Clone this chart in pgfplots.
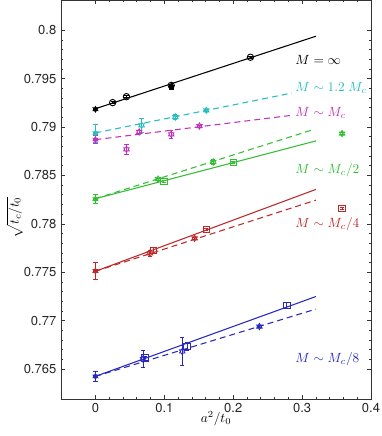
\documentclass[border=0pt]{standalone}
\usepackage{fontspec}
\setmainfont{TeX Gyre Heros}
\usepackage{pgfplots}
\pgfplotsset{compat=1.18}

\definecolor{cK}{RGB}{0,0,0}
\definecolor{cC}{RGB}{38,190,190}
\definecolor{cM}{RGB}{190,50,190}
\definecolor{cG}{RGB}{50,190,50}
\definecolor{cR}{RGB}{190,40,40}
\definecolor{cB}{RGB}{40,40,190}

% six-pointed star outline
\pgfdeclareplotmark{hexa}{%
  \pgfpathmoveto{\pgfpointpolar{90}{\pgfplotmarksize}}%
  \pgfpathlineto{\pgfpointpolar{120}{0.577\pgfplotmarksize}}%
  \pgfpathlineto{\pgfpointpolar{150}{\pgfplotmarksize}}%
  \pgfpathlineto{\pgfpointpolar{180}{0.577\pgfplotmarksize}}%
  \pgfpathlineto{\pgfpointpolar{210}{\pgfplotmarksize}}%
  \pgfpathlineto{\pgfpointpolar{240}{0.577\pgfplotmarksize}}%
  \pgfpathlineto{\pgfpointpolar{270}{\pgfplotmarksize}}%
  \pgfpathlineto{\pgfpointpolar{300}{0.577\pgfplotmarksize}}%
  \pgfpathlineto{\pgfpointpolar{330}{\pgfplotmarksize}}%
  \pgfpathlineto{\pgfpointpolar{0}{0.577\pgfplotmarksize}}%
  \pgfpathlineto{\pgfpointpolar{30}{\pgfplotmarksize}}%
  \pgfpathlineto{\pgfpointpolar{60}{0.577\pgfplotmarksize}}%
  \pgfpathclose
  \pgfusepathqstroke}
\pgfdeclareplotmark{hexa*}{%
  \pgfpathmoveto{\pgfpointpolar{90}{\pgfplotmarksize}}%
  \pgfpathlineto{\pgfpointpolar{120}{0.577\pgfplotmarksize}}%
  \pgfpathlineto{\pgfpointpolar{150}{\pgfplotmarksize}}%
  \pgfpathlineto{\pgfpointpolar{180}{0.577\pgfplotmarksize}}%
  \pgfpathlineto{\pgfpointpolar{210}{\pgfplotmarksize}}%
  \pgfpathlineto{\pgfpointpolar{240}{0.577\pgfplotmarksize}}%
  \pgfpathlineto{\pgfpointpolar{270}{\pgfplotmarksize}}%
  \pgfpathlineto{\pgfpointpolar{300}{0.577\pgfplotmarksize}}%
  \pgfpathlineto{\pgfpointpolar{330}{\pgfplotmarksize}}%
  \pgfpathlineto{\pgfpointpolar{0}{0.577\pgfplotmarksize}}%
  \pgfpathlineto{\pgfpointpolar{30}{\pgfplotmarksize}}%
  \pgfpathlineto{\pgfpointpolar{60}{0.577\pgfplotmarksize}}%
  \pgfpathclose
  \pgfusepathqfillstroke}

\pgfplotsset{
  fit/.style={line width=0.8pt, mark=none},
  dfit/.style={line width=0.8pt, mark=none, dash pattern=on 4.5pt off 3pt},
  pts/.style={only marks, line width=0.7pt,
    error bars/y dir=both, error bars/y explicit,
    error bars/error mark options={rotate=90, mark size=1.6pt, line width=0.7pt},
    error bars/error bar style={line width=0.7pt}},
  st/.style={mark=hexa, mark size=2.3pt},
  sq/.style={mark=square, mark size=2.4pt, mark options={fill=white}},
  zero/.style={mark=hexa*, mark size=2pt},
}

\begin{document}
\begin{tikzpicture}
\begin{axis}[
  width=232.5pt, height=299pt, scale only axis,
  xmin=-0.05, xmax=0.4,
  ymin=0.7619, ymax=0.8031,
  xtick={0,0.1,0.2,0.3,0.4},
  ytick={0.765,0.77,0.775,0.78,0.785,0.79,0.795,0.8},
  minor x tick num=4, minor y tick num=4,
  tick align=inside,
  major tick length=3pt, minor tick length=1.6pt,
  axis line style={black!80, line width=0.6pt},
  tick style={black!80, line width=0.5pt},
  /pgf/number format/assume math mode=true,
  yticklabel style={/pgf/number format/.cd, fixed, precision=3},
  xticklabel style={/pgf/number format/.cd, fixed, precision=2},
  tick label style={font=\fontsize{9.75}{11}\selectfont, text=black!85},
  xlabel={$a^2/t_0$},
  ylabel={$\sqrt{t_c/t_0}$},
  xlabel style={at={(axis description cs:0.5,-0.05)}, anchor=center},
  ylabel style={at={(axis description cs:-0.15,0.455)}, anchor=center, inner sep=0pt},
  clip=false,
]
% M = infinity
\addplot[cK, fit] coordinates {(0,0.7919) (0.32,0.79939)};
\addplot[cK, pts, zero] coordinates {(0,0.79184) +- (0,0.0001)};
\addplot[cK, pts, mark=square*, mark size=1.5pt] coordinates {(0.110,0.79408) +- (0,0.0001)};
\addplot[cK, pts, mark=o, mark size=2.4pt, mark options={fill=white}] coordinates {
  (0.025,0.79253) +- (0,0.0001)
  (0.045,0.79314) +- (0,0.0001)
  (0.110,0.79431) +- (0,0.0001)
  (0.225,0.79722) +- (0,0.0001)
};
% M ~ 1.2 Mc
\addplot[cC, dfit] coordinates {(0,0.7894) (0.285,0.79352)};
\addplot[cC, pts, zero] coordinates {(0,0.78936) +- (0,0.0009)};
\addplot[cC, pts, st] coordinates {
  (0.067,0.79019) +- (0,0.0007)
  (0.116,0.79104) +- (0,0.0003)
  (0.161,0.79173) +- (0,0.0001)
};
% M ~ Mc
\addplot[cM, dfit] coordinates {(0,0.7887) (0.285,0.79122)};
\addplot[cM, pts, zero] coordinates {(0,0.78871) +- (0,0.0004)};
\addplot[cM, pts, st] coordinates {
  (0.045,0.78771) +- (0,0.0005)
  (0.0635,0.78950) +- (0,0.0002)
  (0.110,0.78926) +- (0,0.0004)
  (0.151,0.79011) +- (0,0.0001)
};
% M ~ Mc/2
\addplot[cG, dfit] coordinates {(0,0.7826) (0.316,0.78974)};
\addplot[cG, fit] coordinates {(0,0.7826) (0.32,0.78857)};
\addplot[cG, pts, zero] coordinates {(0,0.78256) +- (0,0.0005)};
\addplot[cG, pts, st] coordinates {
  (0.091,0.78462) +- (0,0.0001)
  (0.171,0.78640) +- (0,0.0003)
  (0.358,0.78933) +- (0,0.0001)
};
\addplot[cG, pts, sq] coordinates {
  (0.0993,0.78441) +- (0,0.0001)
  (0.200,0.78634) +- (0,0.0001)
};
% M ~ Mc/4
\addplot[cR, fit] coordinates {(0,0.7751) (0.32,0.78356)};
\addplot[cR, dfit] coordinates {(0,0.7751) (0.32,0.78245)};
\addplot[cR, pts, zero] coordinates {(0,0.77513) +- (0,0.00087)};
\addplot[cR, pts, st] coordinates {
  (0.079,0.77696) +- (0,0.0003)
  (0.144,0.77851) +- (0,0.0001)
};
\addplot[cR, pts, sq] coordinates {
  (0.0838,0.77722) +- (0,0.0003)
  (0.161,0.77943) +- (0,0.0001)
  (0.358,0.78156) +- (0,0.0001)
};
% M ~ Mc/8
\addplot[cB, fit] coordinates {(0,0.76424) (0.32,0.77249)};
\addplot[cB, dfit] coordinates {(0,0.76424) (0.32,0.77119)};
\addplot[cB, pts, zero] coordinates {(0,0.76424) +- (0,0.0005)};
\addplot[cB, pts, st] coordinates {
  (0.069,0.76603) +- (0,0.0009)
  (0.126,0.76681) +- (0,0.0014)
  (0.238,0.76939) +- (0,0.0001)
};
\addplot[cB, pts, sq] coordinates {
  (0.0717,0.76613) +- (0,0.0002)
  (0.133,0.76733) +- (0,0.0004)
  (0.278,0.77156) +- (0,0.0003)
};
% labels
\node[anchor=west, text=cK, inner sep=0pt] at (axis cs:0.29,0.79699) {$M=\infty$};
\node[anchor=west, text=cC, inner sep=0pt] at (axis cs:0.29,0.79403) {$M\sim 1.2\ M_c$};
\node[anchor=west, text=cM, inner sep=0pt] at (axis cs:0.29,0.79145) {$M\sim M_c$};
\node[anchor=west, text=cG, inner sep=0pt] at (axis cs:0.29,0.78555) {$M\sim M_c/2$};
\node[anchor=west, text=cR, inner sep=0pt] at (axis cs:0.29,0.77995) {$M\sim M_c/4$};
\node[anchor=west, text=cB, inner sep=0pt] at (axis cs:0.29,0.76603) {$M\sim M_c/8$};
\end{axis}
\pgfresetboundingbox
\path[use as bounding box] (current axis.south west) ++(-45.75pt,-27.75pt) rectangle ++(286.5pt,327pt);
\end{tikzpicture}
\end{document}
